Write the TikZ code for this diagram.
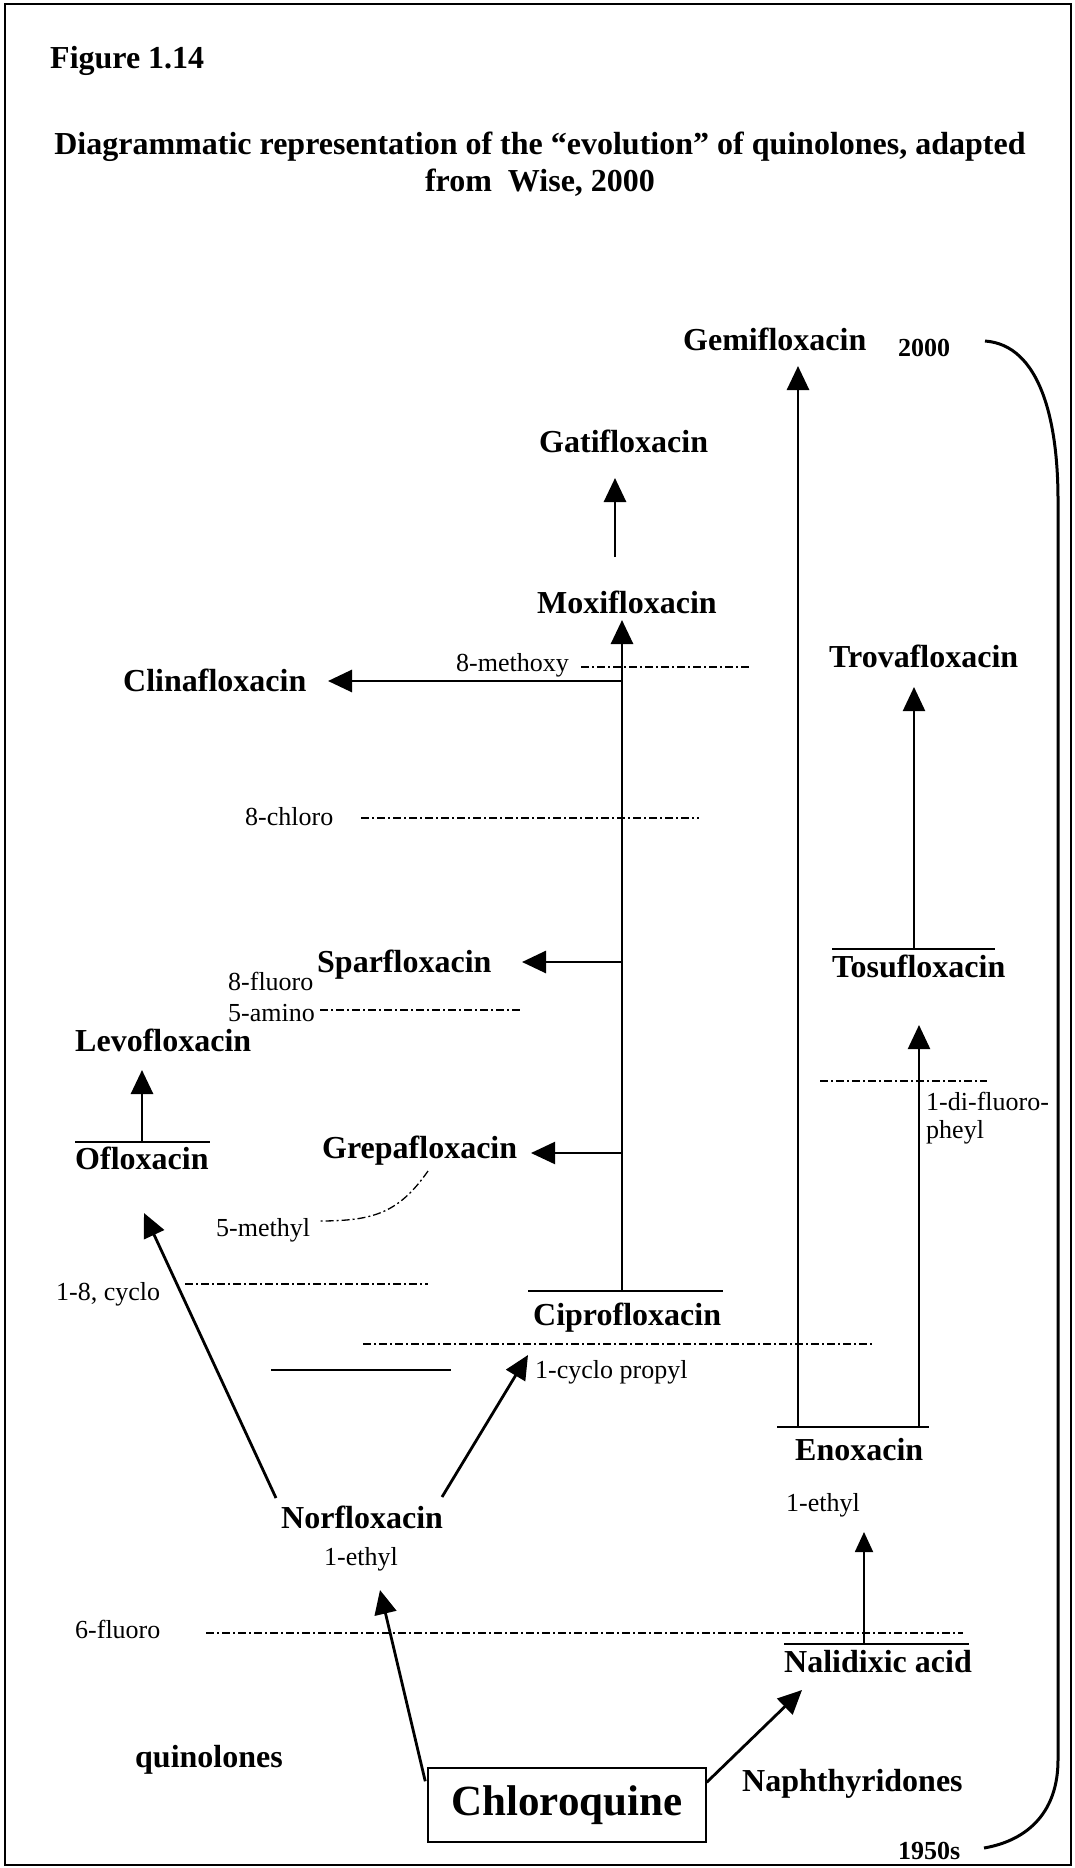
\documentclass[tikz,border=0pt]{standalone}
\usepackage{fontspec}
\setmainfont{Liberation Serif}
\usetikzlibrary{arrows.meta}
\begin{document}
\begin{tikzpicture}[x=1pt,y=-1pt,
  drug/.style={font=\fontsize{32}{36}\selectfont\bfseries, inner sep=0pt, anchor=base west},
  note/.style={font=\fontsize{26}{31}\selectfont, inner sep=0pt, anchor=base west},
  yearlbl/.style={font=\fontsize{26}{31}\selectfont\bfseries, inner sep=0pt, anchor=base west},
  bar/.style={line width=2.5pt},
  dashline/.style={line width=1.3pt, dash pattern=on 8pt off 3pt on 2pt off 3pt},
  arr/.style={line width=2.8pt, -{Triangle[length=24pt,width=22pt]}},
  thinarr/.style={line width=1.8pt, -{Triangle[length=20pt,width=18pt]}},
  frame/.style={line width=2pt},
  bracket/.style={line width=3pt},
]
\useasboundingbox (0,0) rectangle (1075,1868);
\draw[frame] (5,4) rectangle (1071,1865);

% title
\node[drug] (fig) at (50,68) {Figure 1.14};
\node[font=\fontsize{32}{37}\selectfont\bfseries, inner sep=0pt, align=center] (title) at (540,164)
  {Diagrammatic representation of the “evolution” of quinolones, adapted\\ from\ \ Wise, 2000};

% drug names
\node[drug] (gemi) at (683,350) {Gemifloxacin};
\node[yearlbl] (y2000) at (898,356) {2000};
\node[drug] (gati) at (539,452) {Gatifloxacin};
\node[drug] (moxi) at (537,613) {Moxifloxacin};
\node[drug] (clina) at (123,691) {Clinafloxacin};
\node[drug] (trova) at (829,667) {Trovafloxacin};
\node[drug] (tosu) at (832,977) {Tosufloxacin};
\node[drug] (spar) at (317,972) {Sparfloxacin};
\node[drug] (levo) at (75,1051) {Levofloxacin};
\node[drug] (oflox) at (75,1169) {Ofloxacin};
\node[drug] (grepa) at (322,1158) {Grepafloxacin};
\node[drug] (cipro) at (533,1325) {Ciprofloxacin};
\node[drug] (enox) at (795,1460) {Enoxacin};
\node[drug] (norf) at (281,1528) {Norfloxacin};
\node[drug] (nalid) at (784,1672) {Nalidixic acid};
\node[drug] (quin) at (135,1767) {quinolones};
\node[drug] (naph) at (742,1791) {Naphthyridones};
\node[draw, line width=1.5pt, minimum width=278pt, minimum height=74pt, inner sep=0pt,
      font=\fontsize{43}{48}\selectfont\bfseries] (chloro) at (567,1805) {Chloroquine};
\node[yearlbl] (y1950) at (898,1859) {1950s};

% substituent notes
\node[note] (methoxy) at (456,671) {8-methoxy};
\node[note] (chloro8) at (245,825) {8-chloro};
\node[note] (fluoro8) at (228,990) {8-fluoro};
\node[note] (amino5) at (228,1021) {5-amino};
\node[note] (methyl5) at (216,1236) {5-methyl};
\node[note] (cyclo18) at (56,1300) {1-8, cyclo};
\node[note] (cyclopr) at (535,1378) {1-cyclo propyl};
\node[note] (difluoroA) at (926,1110) {1-di-fluoro-};
\node[note] (difluoroB) at (926,1138) {pheyl};
\node[note] (ethylE) at (786,1511) {1-ethyl};
\node[note] (ethylN) at (324,1565) {1-ethyl};
\node[note] (fluoro6) at (75,1638) {6-fluoro};

% bars above names
\draw[bar] (75,1142) coordinate (ofbarL) -- (210,1142) coordinate (ofbarR);
\draw[bar] (528,1291) coordinate (cpbarL) -- (723,1291) coordinate (cpbarR);
\draw[bar] (832,949) coordinate (tsbarL) -- (995,949) coordinate (tsbarR);
\draw[bar] (777,1427) coordinate (enbarL) -- (929,1427) coordinate (enbarR);
\draw[bar] (784,1644) coordinate (nabarL) -- (969,1644) coordinate (nabarR);
\draw[bar] (271,1370) coordinate (plainL) -- (451,1370) coordinate (plainR);

% dash-dot level lines
\draw[dashline] (581,667) coordinate (d1a) -- (749,667) coordinate (d1b);
\draw[dashline] (361,818) coordinate (d2a) -- (699,818) coordinate (d2b);
\draw[dashline] (320,1010) coordinate (d3a) -- (522,1010) coordinate (d3b);
\draw[dashline] (185,1284) coordinate (d4a) -- (428,1284) coordinate (d4b);
\draw[dashline] (363,1344) coordinate (d5a) -- (874,1344) coordinate (d5b);
\draw[dashline] (820,1081) coordinate (d6a) -- (987,1081) coordinate (d6b);
\draw[dashline] (206,1633) coordinate (d7a) -- (963,1633) coordinate (d7b);
\coordinate (mcurveA) at (428,1171);
\coordinate (mcurveB) at (318,1221);
\draw[dashline] (mcurveA) .. controls (398,1214) and (372,1221) .. (mcurveB);

% arrow end points
\coordinate (gemiS) at (798,1427);
\coordinate (gemiT) at (798,366);
\coordinate (gatiS) at (615,557);
\coordinate (gatiT) at (615,478);
\coordinate (moxiS) at (622,1291);
\coordinate (moxiT) at (622,620);
\coordinate (clinaS) at (622,681);
\coordinate (clinaT) at (328,681);
\coordinate (sparS) at (622,962);
\coordinate (sparT) at (522,962);
\coordinate (grepaS) at (622,1153);
\coordinate (grepaT) at (531,1153);
\coordinate (levoS) at (142,1142);
\coordinate (levoT) at (142,1070);
\coordinate (trovaS) at (914,949);
\coordinate (trovaT) at (914,687);
\coordinate (tosuS) at (919,1427);
\coordinate (tosuT) at (919,1025);
\coordinate (nofS) at (276,1498);
\coordinate (nofT) at (144,1213);
\coordinate (ncpS) at (442,1497);
\coordinate (ncpT) at (528,1355);
\coordinate (cnT) at (380,1590);
\coordinate (cnaT) at (802,1690);
\coordinate (enS) at (864,1644);
\coordinate (enT) at (864,1532);

\draw[arr] (gemiS) -- (gemiT);
\draw[arr] (gatiS) -- (gatiT);
\draw[arr] (moxiS) -- (moxiT);
\draw[arr] (clinaS) -- (clinaT);
\draw[arr] (sparS) -- (sparT);
\draw[arr, line width=2.2pt] (grepaS) -- (grepaT);
\draw[arr] (levoS) -- (levoT);
\draw[arr, line width=2.2pt] (trovaS) -- (trovaT);
\draw[arr, line width=2.2pt] (tosuS) -- (tosuT);
\draw[arr] (nofS) -- (nofT);
\draw[arr] (ncpS) -- (ncpT);
\draw[arr] (chloro.north west) ++(-2,14) coordinate (cnS) -- (cnT);
\draw[arr] (chloro.north east) ++(0,15) coordinate (cnaS) -- (cnaT);
\draw[thinarr] (enS) -- (enT);

% time bracket
\draw[bracket] (985,341) .. controls (1040,345) and (1058,420) .. (1058,500)
  -- (1058,1760) .. controls (1058,1810) and (1030,1840) .. (984,1848);
\end{tikzpicture}
\end{document}
